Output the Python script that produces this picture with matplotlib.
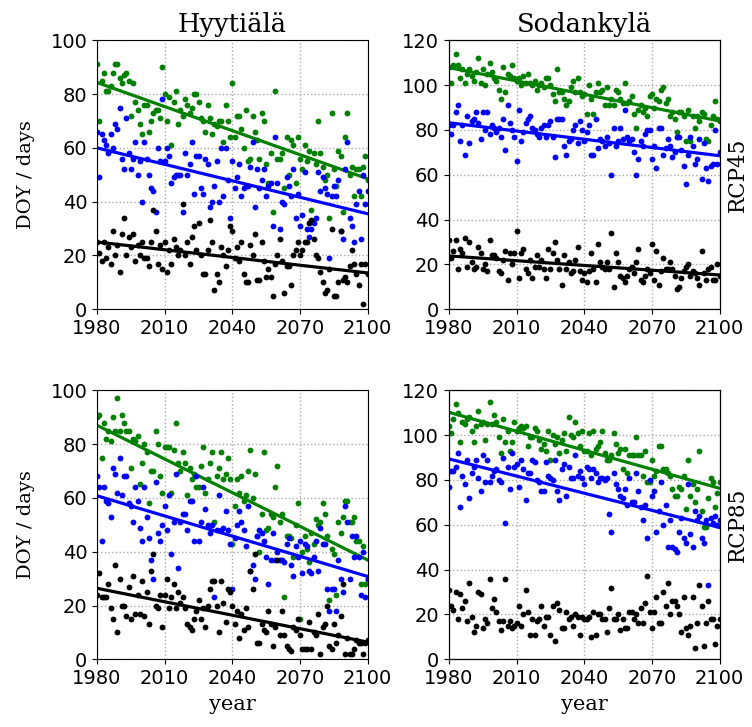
import numpy as np
import matplotlib
matplotlib.use('Agg')
import matplotlib.pyplot as plt

years = np.arange(1980, 2101)

# Hyytiala RCP45
h45_green = [91, 70, 85, 88, 81, 81, 83, 88, 91, 91,
             86, 84, 87, 88, 85, 72, 84, 77, 74, 69,
             65, 76, 76, 66, 70, 73, 74, 74, 71, 90,
             80, 70, 79, 61, 77, 81, 69, 74, 72, 78,
             76, 73, 75, 80, 80, 77, 71, 70, 66, 76,
             71, 65, 69, 68, 70, 70, 62, 76, 70, 64,
             84, 64, 72, 72, 67, 60, 74, 55, 56, 72,
             66, 63, 56, 73, 70, 54, 47, 58, 36, 81,
             56, 56, 58, 45, 64, 50, 63, 61, 47, 64,
             56, 52, 61, 55, 59, 37, 58, 54, 70, 58,
             53, 48, 50, 34, 73, 52, 46, 59, 57, 36,
             64, 73, 50, 53, 42, 52, 52, 42, 53, 57,
             48]
h45_blue = [66, 49, 65, 63, 61, 58, 65, 60, 69, 67,
            75, 56, 52, 71, 58, 52, 56, 62, 50, 55,
            40, 62, 56, 50, 45, 44, 36, 60, 55, 78,
            55, 60, 57, 47, 49, 50, 50, 50, 36, 58,
            50, 54, 62, 43, 57, 57, 45, 43, 56, 54,
            38, 40, 46, 55, 40, 60, 42, 60, 48, 34,
            55, 45, 49, 54, 42, 45, 46, 46, 53, 62,
            38, 52, 45, 48, 52, 42, 46, 47, 31, 64,
            47, 30, 40, 39, 49, 46, 42, 52, 34, 43,
            31, 35, 51, 30, 27, 30, 32, 34, 51, 44,
            49, 45, 43, 19, 42, 46, 42, 48, 29, 26,
            52, 62, 34, 31, 25, 39, 44, 26, 50, 39,
            44]
h45_black = [25, 21, 18, 25, 19, 23, 17, 29, 20, 24,
             14, 28, 34, 20, 27, 23, 28, 18, 24, 20,
             25, 19, 19, 16, 25, 37, 29, 17, 24, 15,
             25, 14, 22, 17, 26, 23, 20, 22, 39, 20,
             25, 17, 27, 31, 22, 32, 20, 13, 13, 22,
             33, 25, 7, 13, 10, 23, 20, 16, 22, 31,
             29, 19, 23, 18, 25, 13, 10, 10, 24, 20,
             28, 11, 11, 25, 18, 12, 15, 12, 5, 17,
             20, 26, 18, 6, 16, 16, 9, 20, 22, 25,
             20, 22, 25, 25, 32, 33, 26, 20, 19, 14,
             10, 6, 7, 15, 30, 5, 5, 10, 29, 11,
             12, 10, 16, 22, 17, 13, 9, 17, 2, 17,
             13]

# Sodankyla RCP45
s45_green = [108, 101, 109, 114, 109, 103, 107, 101, 105, 107,
             104, 102, 106, 112, 101, 107, 100, 105, 110, 106,
             103, 102, 98, 94, 108, 97, 105, 104, 109, 103,
             102, 103, 100, 104, 101, 105, 101, 100, 102, 98,
             100, 101, 99, 103, 103, 100, 96, 93, 107, 97,
             97, 94, 91, 93, 99, 102, 97, 103, 97, 95,
             96, 87, 100, 94, 87, 97, 101, 97, 98, 91,
             99, 91, 94, 91, 98, 97, 94, 92, 101, 92,
             93, 95, 87, 81, 89, 91, 88, 90, 86, 95,
             96, 90, 94, 93, 98, 99, 92, 94, 86, 88,
             85, 79, 88, 88, 86, 75, 89, 75, 86, 81,
             86, 84, 88, 87, 76, 75, 82, 86, 93, 85,
             84]
s45_blue = [82, 78, 82, 88, 91, 75, 82, 69, 86, 74,
            84, 85, 88, 83, 76, 88, 80, 88, 78, 82,
            81, 79, 81, 77, 85, 71, 91, 83, 80, 77,
            66, 89, 75, 79, 83, 85, 86, 81, 80, 78,
            77, 81, 82, 77, 82, 84, 77, 68, 85, 85,
            85, 73, 69, 75, 76, 80, 82, 74, 84, 80,
            75, 79, 82, 69, 69, 85, 72, 76, 75, 73,
            77, 74, 60, 81, 73, 75, 81, 76, 89, 77,
            75, 76, 70, 60, 67, 75, 73, 78, 80, 80,
            67, 73, 63, 81, 81, 69, 72, 76, 73, 68,
            70, 77, 77, 71, 64, 56, 69, 77, 73, 65,
            67, 76, 58, 74, 63, 57, 64, 65, 80, 65,
            70]
s45_black = [31, 23, 26, 31, 18, 27, 25, 32, 19, 30,
             21, 18, 19, 28, 25, 18, 20, 17, 31, 24,
             24, 23, 17, 16, 22, 26, 13, 25, 20, 25,
             35, 14, 25, 27, 18, 16, 22, 14, 19, 24,
             19, 22, 18, 14, 27, 18, 25, 30, 22, 18,
             11, 24, 18, 21, 16, 17, 22, 28, 17, 13,
             16, 12, 17, 25, 18, 12, 29, 21, 19, 18,
             21, 18, 34, 10, 25, 21, 15, 14, 12, 15,
             18, 19, 16, 21, 27, 13, 12, 15, 18, 16,
             29, 13, 26, 11, 17, 23, 18, 18, 21, 18,
             15, 9, 10, 14, 17, 19, 20, 15, 17, 16,
             14, 11, 26, 16, 13, 18, 19, 13, 13, 20,
             15]

# Hyytiala RCP85
h85_green = [90, 91, 75, 88, 82, 85, 81, 90, 85, 97,
             85, 91, 88, 85, 85, 71, 82, 81, 83, 65,
             73, 80, 77, 58, 70, 70, 85, 80, 68, 62,
             79, 79, 79, 62, 78, 88, 73, 70, 77, 73,
             61, 71, 67, 69, 64, 64, 72, 79, 62, 67,
             73, 77, 51, 68, 71, 77, 67, 69, 75, 67,
             43, 57, 67, 62, 68, 59, 61, 70, 78, 60,
             69, 46, 40, 54, 77, 48, 49, 54, 53, 64,
             72, 51, 54, 23, 46, 46, 45, 38, 50, 58,
             15, 40, 46, 41, 36, 47, 43, 52, 50, 51,
             58, 54, 46, 22, 41, 39, 24, 51, 47, 53,
             59, 59, 51, 51, 53, 44, 44, 28, 42, 28,
             30]
h85_blue = [68, 64, 44, 64, 59, 58, 53, 71, 69, 62,
            75, 61, 68, 68, 58, 57, 51, 64, 59, 49,
            44, 64, 53, 45, 37, 30, 66, 47, 44, 50,
            57, 48, 61, 39, 51, 69, 34, 51, 54, 54,
            48, 59, 59, 44, 68, 44, 51, 64, 56, 50,
            47, 50, 23, 48, 61, 48, 49, 55, 48, 43,
            26, 45, 50, 55, 51, 48, 42, 57, 33, 35,
            30, 46, 48, 47, 44, 38, 28, 37, 47, 37,
            40, 37, 37, 36, 43, 45, 35, 31, 42, 38,
            44, 32, 43, 42, 33, 32, 38, 44, 33, 49,
            43, 43, 26, 18, 26, 26, 18, 37, 30, 25,
            57, 51, 30, 46, 38, 46, 38, 24, 40, 23,
            30]
h85_black = [24, 32, 23, 23, 23, 28, 19, 15, 35, 10,
             30, 20, 20, 16, 27, 15, 31, 17, 24, 17,
             29, 16, 25, 13, 33, 39, 20, 19, 24, 12,
             24, 30, 19, 23, 28, 19, 25, 21, 23, 19,
             13, 12, 11, 15, 18, 22, 15, 19, 12, 20,
             26, 29, 29, 20, 10, 29, 21, 14, 26, 25,
             20, 13, 18, 8, 17, 11, 19, 12, 33, 26,
             39, 6, 6, 13, 11, 10, 18, 13, 5, 12,
             37, 9, 18, 9, 5, 4, 3, 12, 11, 15,
             9, 4, 4, 4, 14, 4, 10, 9, 17, 2,
             12, 13, 20, 5, 4, 13, 6, 9, 16, 28,
             2, 8, 2, 2, 4, 7, 6, 6, 2, 6,
             7]

# Sodankyla RCP85
s85_green = [104, 101, 107, 114, 110, 97, 106, 105, 107, 108,
             102, 97, 104, 111, 105, 106, 98, 105, 115, 105,
             109, 106, 99, 92, 107, 97, 102, 93, 97, 106,
             102, 103, 104, 103, 104, 95, 99, 99, 103, 102,
             98, 94, 96, 93, 102, 89, 100, 96, 99, 92,
             98, 101, 93, 108, 100, 99, 106, 101, 95, 102,
             93, 93, 101, 91, 102, 94, 95, 97, 102, 92,
             89, 89, 91, 101, 96, 92, 94, 85, 94, 83,
             91, 91, 91, 99, 91, 91, 82, 93, 79, 79,
             89, 82, 84, 95, 95, 85, 85, 83, 82, 76,
             73, 73, 77, 76, 82, 67, 89, 73, 78, 70,
             76, 93, 66, 59, 59, 72, 81, 79, 68, 74,
             79]
s85_blue = [77, 84, 84, 86, 92, 68, 82, 78, 89, 72,
            83, 86, 89, 81, 75, 91, 79, 89, 79, 82,
            84, 85, 80, 79, 90, 61, 86, 76, 92, 86,
            87, 77, 89, 85, 71, 83, 83, 89, 88, 80,
            79, 75, 75, 88, 82, 81, 80, 89, 75, 71,
            85, 87, 73, 86, 81, 81, 91, 82, 84, 81,
            78, 86, 85, 81, 85, 83, 79, 81, 81, 80,
            81, 65, 57, 83, 78, 76, 73, 72, 76, 69,
            81, 70, 70, 83, 75, 68, 62, 69, 54, 80,
            73, 75, 57, 66, 79, 60, 69, 50, 62, 50,
            49, 48, 57, 63, 54, 52, 78, 56, 50, 66,
            62, 64, 54, 52, 62, 33, 63, 61, 64, 60,
            62]
s85_black = [31, 24, 22, 30, 18, 29, 23, 26, 17, 34,
             19, 12, 15, 30, 29, 14, 18, 16, 36, 23,
             27, 21, 17, 13, 17, 36, 15, 17, 14, 15,
             16, 24, 15, 20, 31, 21, 11, 18, 11, 17,
             18, 24, 15, 19, 19, 11, 24, 8, 25, 22,
             14, 14, 21, 18, 19, 15, 20, 19, 11, 19,
             18, 18, 19, 10, 21, 11, 20, 20, 18, 18,
             12, 23, 32, 18, 18, 20, 13, 18, 14, 14,
             21, 21, 18, 20, 16, 23, 16, 25, 37, 21,
             14, 21, 28, 16, 16, 30, 24, 34, 20, 26,
             26, 24, 20, 12, 28, 14, 11, 15, 28, 5,
             16, 33, 24, 6, 16, 26, 18, 18, 7, 15,
             18]

# trend lines: value at 1980 and at 2100 (None = no line)
h45_trend = [(84.3, 48.5), (60.0, 35.5), (25.0, 13.5)]
s45_trend = [(107.8, 84.0), (83.2, 68.5), (23.8, 15.3)]
h85_trend = [(87.0, 36.9), (60.8, 30.8), (26.4, 6.4)]
s85_trend = [(110.2, 76.3), (89.4, 58.8), None]

colors = ['green', 'blue', 'black']

panels = [
    ('Hyytiälä', [h45_green, h45_blue, h45_black], h45_trend, 100, None),
    ('Sodankylä', [s45_green, s45_blue, s45_black], s45_trend, 120, 'RCP45'),
    (None, [h85_green, h85_blue, h85_black], h85_trend, 100, None),
    (None, [s85_green, s85_blue, s85_black], s85_trend, 120, 'RCP85'),
]

fig = plt.figure(figsize=(7.52, 7.27), dpi=100)
lefts = [0.129, 0.597]
bottoms = [0.5746, 0.0931]

for i, (title, series, trends, ymax, rcp) in enumerate(panels):
    row, col = i // 2, i % 2
    ax = fig.add_axes([lefts[col], bottoms[row], 0.360, 0.370])
    for vals, c, tr in zip(series, colors, trends):
        ax.plot(years, vals, 'o', color=c, ms=4.2, mec='none')
        if tr is not None:
            ax.plot([years[0], years[-1]], list(tr), '-', color=c, lw=2.3)
    ax.set_xlim(1980, 2100)
    ax.set_ylim(0, ymax)
    ax.set_xticks([1980, 2010, 2040, 2070, 2100])
    ax.set_yticks(np.arange(0, ymax + 1, 20))
    ax.tick_params(labelsize=14)
    ax.grid(linestyle=':', color='#aaaaaa', lw=1)
    if title:
        ax.set_title(title, family='DejaVu Serif', fontsize=18.5, pad=6)
    if col == 0:
        ax.set_ylabel('DOY / days', family='DejaVu Serif', fontsize=14, labelpad=11)
    if row == 1:
        ax.set_xlabel('year', family='DejaVu Serif', fontsize=15, labelpad=5)
    if rcp:
        ax2 = ax.twinx()
        ax2.set_yticks([])
        ax2.set_ylabel(rcp, family='DejaVu Serif', fontsize=15.5, labelpad=5)

plt.savefig('out.png', dpi=100)
